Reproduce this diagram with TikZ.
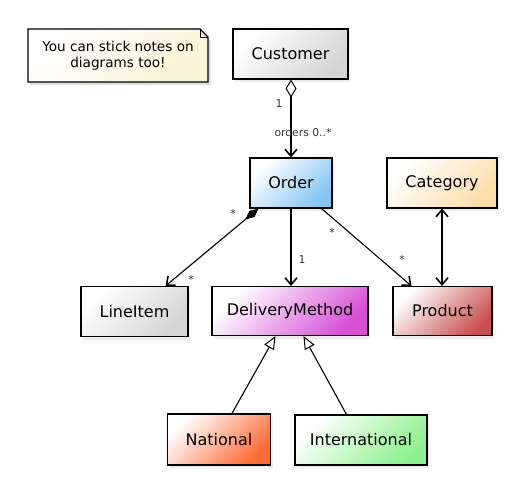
\documentclass[tikz,border=0pt]{standalone}
\usepackage{fontspec}
\setmainfont{DejaVu Sans}
\usetikzlibrary{arrows.meta,shadows,calc}
\definecolor{cgrey}{HTML}{D4D4D4}
\definecolor{cblue}{HTML}{86C5F2}
\definecolor{corange}{HTML}{FCDDAA}
\definecolor{cmagenta}{HTML}{D650D6}
\definecolor{cred}{HTML}{C94F4F}
\definecolor{cnat}{HTML}{FF6A35}
\definecolor{cgreen}{HTML}{8EF08E}
\definecolor{cnote}{HTML}{FCF4D8}
\definecolor{lbl}{HTML}{333333}
\tikzset{
  cls/.style={rectangle, draw=black, line width=1.1pt, inner sep=0pt,
    minimum height=50pt, font=\fontsize{16}{18}\selectfont,
    shading=axis, top color=white, bottom color=#1, shading angle=45,
    drop shadow={shadow xshift=2pt, shadow yshift=-3pt, opacity=0.15}},
  lab/.style={font=\fontsize{10.8}{12}\selectfont, text=lbl, inner sep=0pt},
  conn/.style={line width=1.1pt},
  barb/.style={conn, -{Straight Barb[length=7pt,width=12pt,line width=1.6pt]}},
  gen/.style={conn, -{Triangle[length=13pt,width=11pt,fill=white,line width=1pt]}}
}
\begin{document}
\begin{tikzpicture}[x=1pt,y=-1pt]
\useasboundingbox (0,0) rectangle (525,495);
% note
\fill[black, opacity=0.12] (30,32) -- (202,32) -- (211,41) -- (211,85) -- (30,85) -- cycle;
\path[draw=black, line width=1.1pt, shading=axis, top color=white, bottom color=cnote, shading angle=45]
  (28,29) -- (200,29) -- (208,37) -- (208,82) -- (28,82) -- cycle;
\draw[line width=0.8pt] (200,29) -- (200,37) -- (208,37);
\node[align=center, font=\fontsize{13.6}{16}\selectfont, inner sep=0pt] (note) at (118,55.5)
  {You can stick notes on\\diagrams too!};
% classes
\node[cls=cgrey, minimum width=115pt] (customer) at (290.5,54) {Customer};
\node[cls=cblue, minimum width=82pt] (order) at (291,183) {Order};
\node[cls=corange, minimum width=110pt] (category) at (442,183) {Category};
\node[cls=cgrey, minimum width=107pt] (lineitem) at (134.5,311.5) {LineItem};
\node[cls=cmagenta, minimum width=156pt, minimum height=49pt] (dm) at (290,311) {DeliveryMethod};
\node[cls=cred, minimum width=99pt, minimum height=49pt] (product) at (442.5,311) {Product};
\node[cls=cnat, minimum width=103pt, minimum height=51pt] (national) at (219,439.5) {National};
\node[cls=cgreen, minimum width=132pt] (international) at (361,440) {International};
% connectors
\draw[barb, {Diamond[length=18pt,width=11pt,fill=white,line width=1pt]}-{Straight Barb[length=7pt,width=12pt,line width=1.6pt]}]
  (customer.south -| order.north) -- (order.north);
\draw[barb, {Diamond[length=17pt,width=8pt,fill=black,line width=0.8pt]}-{Straight Barb[length=7pt,width=12pt,line width=1.6pt]}]
  ([xshift=9pt]order.south west) -- ([xshift=-23pt]lineitem.north east);
\draw[barb] (order.south) -- (order.south |- dm.north);
\draw[barb] ([xshift=-11pt]order.south east) -- ([xshift=19pt]product.north west);
\draw[conn, {Straight Barb[length=7pt,width=12pt,line width=1.6pt]}-{Straight Barb[length=7pt,width=12pt,line width=1.6pt]}]
  (category.south) -- (category.south |- product.north);
\draw[gen] ([xshift=65pt]national.north west) -- ([xshift=64pt]dm.south west);
\draw[gen] ([xshift=52pt]international.north west) -- ([xshift=92pt]dm.south west);
% labels
\node[lab] (l1) at (279,104) {1};
\node[lab] (l2) at (303,132) {orders 0..*};
\node[lab] (l3) at (233,213) {*};
\node[lab] (l4) at (191,279) {*};
\node[lab] (l5) at (302,260) {1};
\node[lab] (l6) at (332,232) {*};
\node[lab] (l7) at (402,259) {*};
\end{tikzpicture}
\end{document}
